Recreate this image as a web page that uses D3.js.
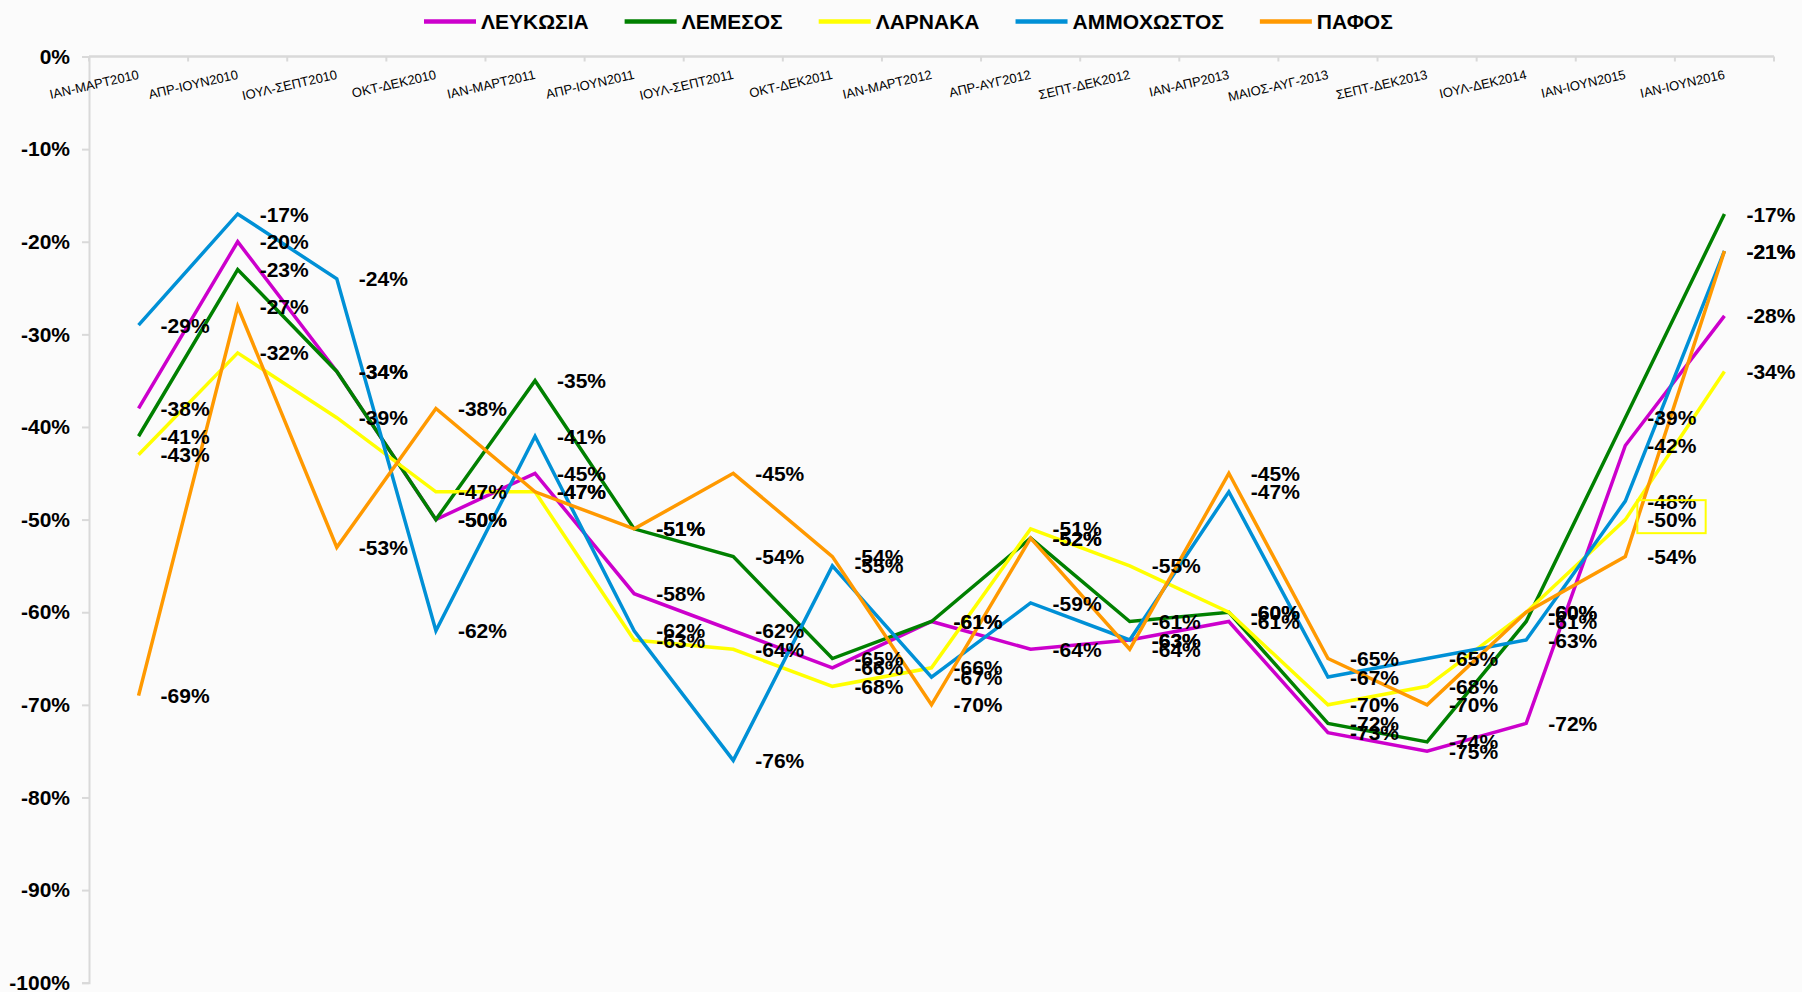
<!DOCTYPE html>
<html>
<head>
<meta charset="utf-8">
<script src="https://cdn.jsdelivr.net/npm/d3@7"></script>
<style>
  html, body { margin: 0; padding: 0; background: #fbfbfb; }
  svg { display: block; }
  text { font-family: "Liberation Sans", Arial, sans-serif; }
</style>
</head>
<body>
<svg id="chart" width="1802" height="992"></svg>
<script>
const categories = ["ΙΑΝ-ΜΑΡΤ2010","ΑΠΡ-ΙΟΥΝ2010","ΙΟΥΛ-ΣΕΠΤ2010","ΟΚΤ-ΔΕΚ2010","ΙΑΝ-ΜΑΡΤ2011","ΑΠΡ-ΙΟΥΝ2011","ΙΟΥΛ-ΣΕΠΤ2011","ΟΚΤ-ΔΕΚ2011","ΙΑΝ-ΜΑΡΤ2012","ΑΠΡ-ΑΥΓ2012","ΣΕΠΤ-ΔΕΚ2012","ΙΑΝ-ΑΠΡ2013","ΜΑΙΟΣ-ΑΥΓ-2013","ΣΕΠΤ-ΔΕΚ2013","ΙΟΥΛ-ΔΕΚ2014","ΙΑΝ-ΙΟΥΝ2015","ΙΑΝ-ΙΟΥΝ2016"];

const seriesNames = ["ΛΕΥΚΩΣΙΑ","ΛΕΜΕΣΟΣ","ΛΑΡΝΑΚΑ","ΑΜΜΟΧΩΣΤΟΣ","ΠΑΦΟΣ"];
const seriesColors = ["#CC00CC","#008000","#FFFF00","#0090D6","#FF9900"];

const lefkosia    = [-38,-20,-34,-50,-45,-58,-62,-66,-61,-64,-63,-61,-73,-75,-72,-42,-28];
const lemesos     = [-41,-23,-34,-50,-35,-51,-54,-65,-61,-52,-61,-60,-72,-74,-61,-39,-17];
const larnaka     = [-43,-32,-39,-47,-47,-63,-64,-68,-66,-51,-55,-60,-70,-68,-60,-50,-34];
const ammochostos = [-29,-17,-24,-62,-41,-62,-76,-55,-67,-59,-63,-47,-67,-65,-63,-48,-21];
const pafos       = [-69,-27,-53,-38,-47,-51,-45,-54,-70,-52,-64,-45,-65,-70,-60,-54,-21];

const yTicks = [0,-10,-20,-30,-40,-50,-60,-70,-80,-90,-100];

// highlighted label (boxed) : series index, category index
const boxedLabel = { series: 2, index: 15 };

const seriesValues = [lefkosia, lemesos, larnaka, ammochostos, pafos];
const series = seriesNames.map((name, k) => ({
  name, color: seriesColors[k],
  values: seriesValues[k].map((v, i) => ({ cat: categories[i], v, i }))
}));

const svg = d3.select("#chart");
const plotLeft = 89, plotRight = 1774, plotTop = 56.5, plotBottom = 982.7;

const x = d3.scaleBand().domain(categories).range([plotLeft, plotRight]).paddingInner(0).paddingOuter(0);
const xc = c => x(c) + x.bandwidth() / 2;
const y = d3.scaleLinear().domain([-100, 0]).range([plotBottom, plotTop]);

// Y axis
const yAxis = svg.append("g").attr("transform", `translate(${plotLeft},0)`)
  .call(d3.axisLeft(y).tickValues(yTicks).tickSize(7).tickPadding(12).tickFormat(d => d + "%"));
yAxis.select(".domain").attr("stroke", "#d9d9d9").attr("stroke-width", 2);
yAxis.selectAll(".tick line").attr("stroke", "#d9d9d9").attr("stroke-width", 2);
yAxis.selectAll(".tick text").attr("font-size", 21).attr("font-weight", "bold").attr("fill", "#000");

// X axis at the top (0%)
const xAxisG = svg.append("g").attr("transform", `translate(0,${y(0)})`);
xAxisG.append("line").attr("x1", plotLeft).attr("x2", plotRight).attr("y1", 0).attr("y2", 0)
  .attr("stroke", "#d9d9d9").attr("stroke-width", 2.5);
const boundaries = categories.map(c => x(c)).concat([plotRight]);
xAxisG.selectAll("line.tk").data(boundaries).join("line").attr("class", "tk")
  .attr("x1", d => d).attr("x2", d => d).attr("y1", 0).attr("y2", 5)
  .attr("stroke", "#d9d9d9").attr("stroke-width", 2);
xAxisG.selectAll("text.cat").data(categories).join("text").attr("class", "cat")
  .attr("transform", d => `translate(${xc(d) + 1},${22}) rotate(-13)`)
  .attr("text-anchor", "end")
  .attr("font-size", 13)
  .attr("fill", "#000")
  .text(d => d);

// Lines
const line = d3.line().x(d => xc(d.cat)).y(d => y(d.v));
svg.append("g").selectAll("path").data(series).join("path")
  .attr("d", d => line(d.values))
  .attr("fill", "none")
  .attr("stroke", d => d.color)
  .attr("stroke-width", 3.5)
  .attr("stroke-linejoin", "miter");

// Data labels
const labelsG = svg.append("g");
series.forEach((s, k) => {
  labelsG.selectAll(null).data(s.values).join("text")
    .attr("x", d => xc(d.cat) + 22)
    .attr("y", d => y(d.v))
    .attr("dy", "0.36em")
    .attr("font-size", 21)
    .attr("font-weight", "bold")
    .attr("fill", "#000")
    .each(function(d) {
      if (k === boxedLabel.series && d.i === boxedLabel.index) {
        d3.select(this).classed("boxed", true);
      }
    })
    .text(d => d.v + "%");
});
labelsG.selectAll("text.boxed").each(function() {
  const b = this.getBBox();
  labelsG.append("rect")
    .attr("x", b.x - 10).attr("y", b.y - 8)
    .attr("width", b.width + 19).attr("height", b.height + 10)
    .attr("fill", "none").attr("stroke", "#FFFF00").attr("stroke-width", 2);
});

// Legend
const legend = svg.append("g");
let lx = 424;
const ly = 21.5;
series.forEach(s => {
  legend.append("line").attr("x1", lx).attr("x2", lx + 52).attr("y1", ly).attr("y2", ly)
    .attr("stroke", s.color).attr("stroke-width", 4.5);
  const t = legend.append("text").attr("x", lx + 57).attr("y", ly).attr("dy", "0.36em")
    .attr("font-size", 21).attr("font-weight", "bold").attr("fill", "#000").text(s.name);
  lx = lx + 57 + t.node().getComputedTextLength() + 36;
});
</script>
</body>
</html>
